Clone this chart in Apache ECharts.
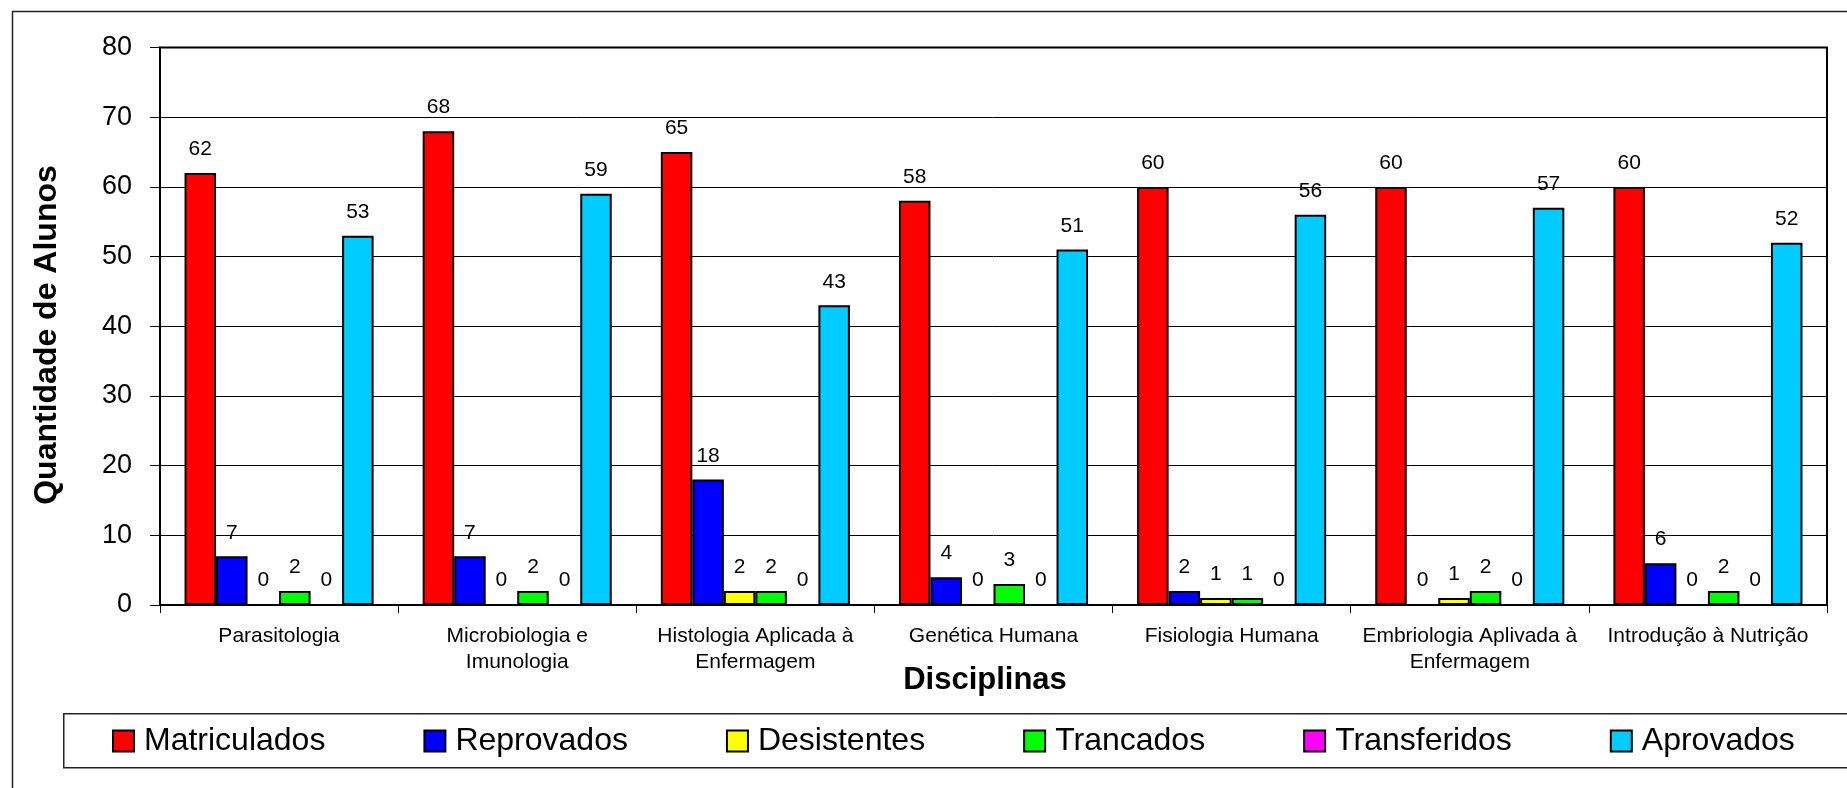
<!DOCTYPE html>
<html>
<head>
<meta charset="utf-8">
<script src="https://cdn.jsdelivr.net/npm/echarts@6/dist/echarts.min.js"></script>
<style>
html,body{margin:0;padding:0;background:#fff;}
#chart{width:1847px;height:788px;}
</style>
</head>
<body>
<div id="chart"></div>
<script>
const categories = [
  'Parasitologia',
  'Microbiologia e\nImunologia',
  'Histologia Aplicada à\nEnfermagem',
  'Genética Humana',
  'Fisiologia Humana',
  'Embriologia Aplivada à\nEnfermagem',
  'Introdução à Nutrição'
];
const matriculados = [62, 68, 65, 58, 60, 60, 60];
const reprovados   = [7, 7, 18, 4, 2, 0, 6];
const desistentes  = [0, 0, 2, 0, 1, 1, 0];
const trancados    = [2, 2, 2, 3, 1, 2, 2];
const transferidos = [0, 0, 0, 0, 0, 0, 0];
const aprovados    = [53, 59, 43, 51, 56, 57, 52];
const seriesNames  = ['Matriculados', 'Reprovados', 'Desistentes', 'Trancados', 'Transferidos', 'Aprovados'];
const seriesColors = ['#FF0000', '#0000FF', '#FFFF00', '#00FF00', '#FF00FF', '#00CCFF'];
const seriesData   = [matriculados, reprovados, desistentes, trancados, transferidos, aprovados];

const FONT = '"Liberation Sans", Arial, sans-serif';
const chart = echarts.init(document.getElementById('chart'), null, {renderer: 'canvas'});

const series = seriesNames.map((name, i) => ({
  name: name,
  type: 'bar',
  data: seriesData[i],
  barGap: '0%',
  barCategoryGap: '20.6%',
  itemStyle: { color: seriesColors[i], borderColor: '#000', borderWidth: 2 },
  label: {
    show: true, position: 'top', distance: 13,
    fontFamily: FONT, fontSize: 21, color: '#000'
  },
  emphasis: { disabled: true }
}));

chart.setOption({
  animation: false,
  backgroundColor: '#fff',
  textStyle: { fontFamily: FONT },
  grid: {
    left: 160, right: 20, top: 47.5, bottom: 183,
    show: true, borderColor: '#000', borderWidth: 2, backgroundColor: '#fff',
    containLabel: false
  },
  legend: {
    left: 112, top: 725, padding: 0,
    itemWidth: 21, itemHeight: 21, itemGap: 98,
    icon: 'rect',
    textStyle: { fontFamily: FONT, fontSize: 32, color: '#000', padding: [0, 0, 0, 5] },
    data: seriesNames
  },
  xAxis: {
    type: 'category',
    data: categories,
    axisLine: { lineStyle: { color: '#000', width: 2 } },
    axisTick: { show: true, length: 8, lineStyle: { color: '#000', width: 1 }, alignWithLabel: false },
    axisLabel: { fontFamily: FONT, fontSize: 21, color: '#000', margin: 18, lineHeight: 26, interval: 0 },
    splitLine: { show: false }
  },
  yAxis: {
    type: 'value',
    min: 0, max: 80, interval: 10,
    axisLine: { show: true, lineStyle: { color: '#000', width: 2 } },
    axisTick: { show: true, length: 10, lineStyle: { color: '#000', width: 1 } },
    axisLabel: { fontFamily: FONT, fontSize: 27, color: '#000', margin: 28 },
    splitLine: { show: true, lineStyle: { color: '#000', width: 1 } }
  },
  graphic: [
    { type: 'rect', left: 10, top: 9, z: -10, silent: true,
      shape: { width: 1900, height: 900 },
      style: { fill: 'none', stroke: '#222', lineWidth: 1.5 } },
    { type: 'rect', left: 63, top: 713, z: -5, silent: true,
      shape: { width: 1900, height: 54 },
      style: { fill: '#fff', stroke: '#222', lineWidth: 1.5 } },
    { type: 'text', x: 985, y: 680, silent: true,
      style: { text: 'Disciplinas', font: 'bold 31px ' + FONT, fill: '#000',
               textAlign: 'center', textVerticalAlign: 'middle' } },
    { type: 'text', x: 47, y: 335, rotation: Math.PI / 2, silent: true,
      style: { text: 'Quantidade de Alunos', font: 'bold 32px ' + FONT, fill: '#000',
               textAlign: 'center', textVerticalAlign: 'middle' } }
  ],
  series: series
});
</script>
</body>
</html>
